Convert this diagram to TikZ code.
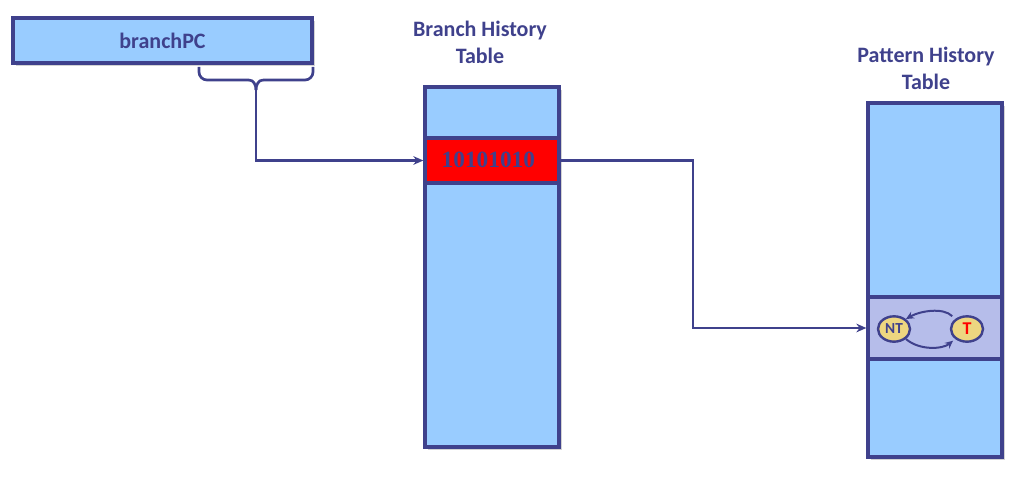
\documentclass[tikz,border=0pt]{standalone}
\usepackage{fontspec}
\setmainfont{Carlito}
\newfontfamily\digitfont{Liberation Serif}
\usetikzlibrary{arrows.meta,shadows,calc,shapes.geometric}
\definecolor{navy}{RGB}{63,65,140}
\definecolor{lblue}{RGB}{153,204,255}
\definecolor{lav}{RGB}{182,189,234}
\definecolor{khaki}{RGB}{237,214,128}
\tikzset{
  box/.style={draw=navy, line width=2.5pt, fill=lblue, inner sep=0pt,
    drop shadow={shadow xshift=2pt, shadow yshift=-2pt, opacity=0.35}},
  rowbox/.style={draw=navy, line width=2.5pt, inner sep=0pt},
  conn/.style={draw=navy, line width=2pt},
  arr/.style={conn, -{Stealth[length=7.5pt,width=6.5pt]}},
  smallarr/.style={draw=navy, line width=1.5pt, -{Stealth[length=6pt,width=5.5pt]}},
  state/.style={ellipse, draw=navy, line width=1.8pt, fill=khaki, minimum width=24pt, minimum height=19pt, inner sep=0pt, font=\bfseries\fontsize{11.5}{12}\selectfont, text=navy},
  title/.style={align=center, text=navy, font=\bfseries\fontsize{16.5}{20.3}\selectfont},
}
\begin{document}
\begin{tikzpicture}[x=0.75pt,y=-0.75pt]
\useasboundingbox (0,0) rectangle (1035,477);
% branchPC
\node[box, minimum width=299*0.75pt, minimum height=45*0.75pt, text=navy, font=\bfseries\fontsize{16.5}{20}\selectfont] (pc) at (162.5,40.5) {branchPC};
% titles
\node[title] (bhtt) at (480,42) {Branch History\\Table};
\node[title] (phtt) at (926,68.5) {Pattern History\\Table};
% BHT
\node[box, minimum width=134*0.75pt, minimum height=360*0.75pt] (bht) at (492,267) {};
\node[rowbox, fill=red, minimum width=134*0.75pt, minimum height=45*0.75pt] (bhtrow) at (492,160.5) {};
\node[text=navy, font=\digitfont\bfseries\fontsize{17.5}{20}\selectfont, anchor=west] (bits) at (437,160) {10101010};
% PHT
\node[box, minimum width=134*0.75pt, minimum height=354*0.75pt] (pht) at (935,280) {};
\node[rowbox, fill=lav, minimum width=134*0.75pt, minimum height=62*0.75pt] (phtrow) at (935,328) {};
\node[state] (nt) at (894,329) {NT};
\node[state, text=red, font=\bfseries\fontsize{13.5}{14}\selectfont] (t) at (967,329) {T};
\draw[smallarr, shorten <=3pt] (t.140) .. controls +(-12,-12) and +(14,-8) .. (nt.40);
\draw[smallarr, shorten >=2pt] (nt.-40) .. controls +(14,12) and +(-12,10) .. (t.-140);
% brace
\coordinate (bl) at (199,67);
\coordinate (br) at (313,67);
\coordinate (tip) at (256,90);
\draw[conn, rounded corners=6pt] (bl) |- (249,80);
\draw[conn, rounded corners=6pt] (br) |- (263,80);
\draw[conn] (249,80) to[out=0,in=90] (tip);
\draw[conn] (263,80) to[out=180,in=90] (tip);
% connectors
\draw[arr] (tip) |- (bhtrow.west);
\draw[arr] (bhtrow.east) -- (693,160.5) |- (phtrow.west);
\end{tikzpicture}
\end{document}
